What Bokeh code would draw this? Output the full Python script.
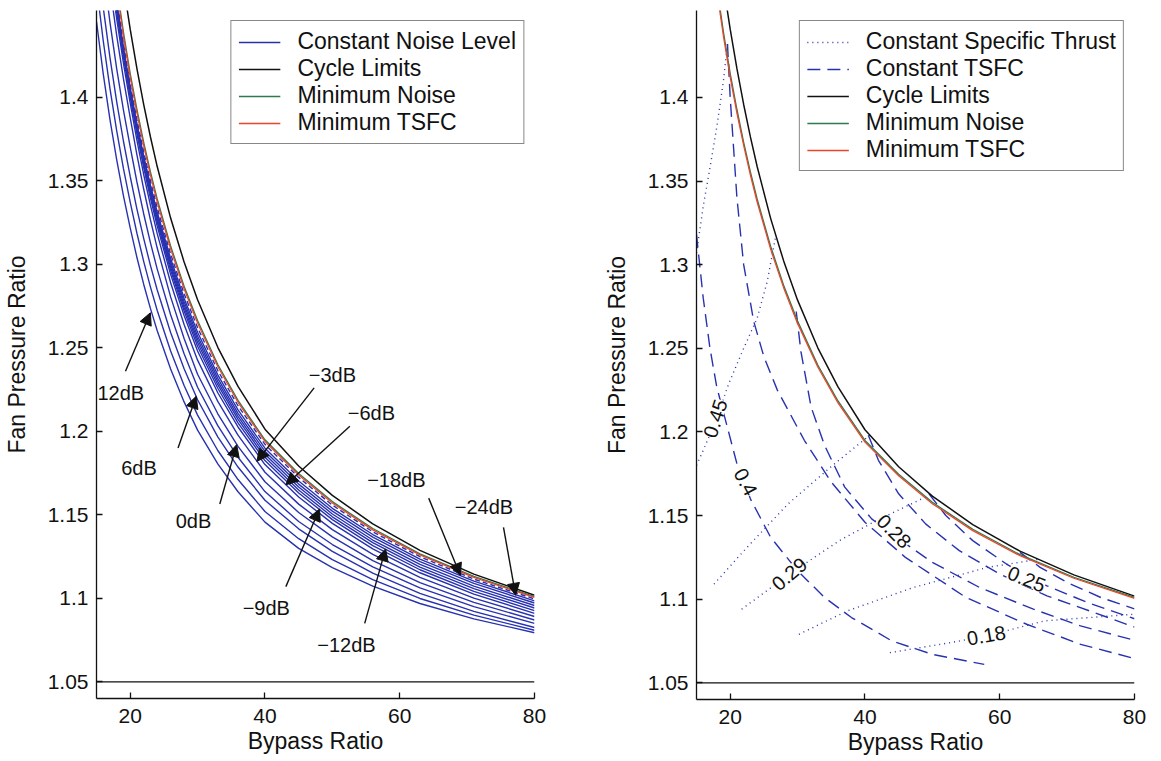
import math
from bokeh.plotting import figure
from bokeh.models import (Range1d, FixedTicker, Legend, LegendItem, Arrow, NormalHead,
                          ColumnDataSource, LabelSet, Span)
from bokeh.core.properties import value
from bokeh.layouts import row
from bokeh.embed import file_html
from bokeh.resources import INLINE

# ---------------- data ----------------
bpr = [15, 16, 17, 18, 19, 20, 21, 22, 23, 24, 26, 28, 30, 33, 36, 40, 45, 50, 56, 63, 71, 80]
cycle_limit = [1.6101, 1.5672, 1.5297, 1.4966, 1.4671, 1.4408, 1.4172, 1.3958, 1.3764, 1.3587, 1.3277,
               1.3014, 1.2788, 1.2503, 1.2269, 1.2013, 1.1792, 1.1616, 1.1446, 1.1287, 1.1145, 1.1018]
min_noise = [1.5735, 1.5332, 1.4979, 1.4668, 1.4391, 1.4144, 1.3928, 1.3732, 1.3555, 1.3393, 1.3110,
             1.2869, 1.2663, 1.2400, 1.2185, 1.1949, 1.1747, 1.1579, 1.1418, 1.1266, 1.1131, 1.1010]
min_tsfc = [1.5704, 1.5303, 1.4953, 1.4643, 1.4367, 1.4121, 1.3907, 1.3713, 1.3536, 1.3375, 1.3093,
            1.2854, 1.2649, 1.2388, 1.2174, 1.1939, 1.1738, 1.1571, 1.1410, 1.1260, 1.1125, 1.1005]
fpr_floor = 1.05

# constant noise level contours
n_m24 = [1.5643, 1.5247, 1.4900, 1.4594, 1.4321, 1.4077, 1.3865, 1.3673, 1.3499, 1.3340, 1.3061,
         1.2824, 1.2621, 1.2364, 1.2153, 1.1922, 1.1724, 1.1558, 1.1398, 1.1249, 1.1115, 1.0996]
n_m21 = [1.5613, 1.5218, 1.4873, 1.4569, 1.4297, 1.4055, 1.3842, 1.3649, 1.3474, 1.3314, 1.3035,
         1.2797, 1.2593, 1.2338, 1.2128, 1.1899, 1.1702, 1.1539, 1.1382, 1.1235, 1.1103, 1.0985]
n_m18 = [1.5601, 1.5207, 1.4863, 1.4559, 1.4288, 1.4047, 1.3832, 1.3637, 1.3460, 1.3299, 1.3016,
         1.2777, 1.2571, 1.2317, 1.2108, 1.1880, 1.1684, 1.1522, 1.1366, 1.1220, 1.1089, 1.0972]
n_m15 = [1.5589, 1.5196, 1.4852, 1.4549, 1.4279, 1.4038, 1.3821, 1.3625, 1.3447, 1.3284, 1.3000,
         1.2758, 1.2551, 1.2298, 1.2090, 1.1862, 1.1667, 1.1505, 1.1349, 1.1203, 1.1073, 1.0957]
n_m12 = [1.5576, 1.5184, 1.4841, 1.4539, 1.4269, 1.4029, 1.3811, 1.3613, 1.3434, 1.3270, 1.2983,
         1.2740, 1.2532, 1.2279, 1.2071, 1.1844, 1.1649, 1.1488, 1.1333, 1.1187, 1.1058, 1.0942]
n_m9 = [1.5564, 1.5173, 1.4831, 1.4529, 1.4260, 1.4020, 1.3800, 1.3600, 1.3419, 1.3254, 1.2965,
        1.2720, 1.2509, 1.2258, 1.2051, 1.1825, 1.1631, 1.1471, 1.1316, 1.1171, 1.1042, 1.0926]
n_m6 = [1.5540, 1.5150, 1.4810, 1.4509, 1.4241, 1.4002, 1.3781, 1.3580, 1.3397, 1.3231, 1.2940,
        1.2693, 1.2481, 1.2231, 1.2026, 1.1801, 1.1607, 1.1449, 1.1296, 1.1153, 1.1025, 1.0910]
n_m3 = [1.5491, 1.5105, 1.4767, 1.4469, 1.4204, 1.3967, 1.3742, 1.3538, 1.3354, 1.3185, 1.2890,
        1.2640, 1.2426, 1.2179, 1.1977, 1.1755, 1.1564, 1.1411, 1.1263, 1.1125, 1.1001, 1.0891]
n_0 = [1.5369, 1.4991, 1.4661, 1.4370, 1.4110, 1.3879, 1.3655, 1.3451, 1.3267, 1.3099, 1.2805,
       1.2556, 1.2342, 1.2105, 1.1910, 1.1698, 1.1514, 1.1368, 1.1226, 1.1094, 1.0976, 1.0870]
n_p3 = [1.5125, 1.4764, 1.4449, 1.4171, 1.3924, 1.3703, 1.3493, 1.3303, 1.3130, 1.2973, 1.2698,
        1.2464, 1.2264, 1.2034, 1.1845, 1.1639, 1.1460, 1.1322, 1.1188, 1.1062, 1.0950, 1.0850]
n_p6 = [1.4881, 1.4538, 1.4238, 1.3973, 1.3737, 1.3526, 1.3331, 1.3155, 1.2994, 1.2848, 1.2592,
        1.2375, 1.2189, 1.1967, 1.1786, 1.1587, 1.1416, 1.1281, 1.1151, 1.1030, 1.0922, 1.0825]
n_p9 = [1.4667, 1.4339, 1.4052, 1.3799, 1.3573, 1.3372, 1.3186, 1.3018, 1.2865, 1.2725, 1.2481,
        1.2274, 1.2097, 1.1885, 1.1711, 1.1520, 1.1357, 1.1232, 1.1112, 1.0999, 1.0899, 1.0809]
n_p12 = [1.4454, 1.4141, 1.3867, 1.3625, 1.3410, 1.3218, 1.3041, 1.2881, 1.2736, 1.2604, 1.2373,
         1.2176, 1.2007, 1.1805, 1.1638, 1.1456, 1.1299, 1.1184, 1.1073, 1.0969, 1.0877, 1.0794]
noise_solid = [n_m21, n_m18, n_m15, n_m12, n_m9, n_m6, n_m3, n_0, n_p3, n_p6, n_p9, n_p12]

# dB annotations: text position, arrow tail, arrow tip
db_text = ["12dB", "6dB", "0dB", "\u22123dB", "\u22126dB", "\u22129dB", "\u221212dB", "\u221218dB", "\u221224dB"]
db_text_x = [18.6, 21.3, 29.4, 50.0, 55.8, 40.2, 52.1, 59.5, 72.5]
db_text_y = [1.223, 1.178, 1.146, 1.234, 1.211, 1.094, 1.072, 1.171, 1.1545]
db_tail_x = [19.3, 27.1, 33.3, 47.3, 52.6, 43.1, 54.8, 64.3, 75.4]
db_tail_y = [1.236, 1.190, 1.1565, 1.226, 1.203, 1.107, 1.085, 1.160, 1.1425]
db_tip_x = [23.0, 29.8, 35.8, 38.8, 43.1, 48.1, 57.9, 69.0, 77.2]
db_tip_y = [1.271, 1.221, 1.192, 1.182, 1.168, 1.1535, 1.1296, 1.1137, 1.1018]

# constant TSFC contours (dashed)
tsfc_a_bpr = [15, 16, 17, 18, 19.5, 21, 23, 26, 30, 34, 38, 44, 50, 57.7]
tsfc_a_fpr = [1.318, 1.280, 1.250, 1.227, 1.204, 1.181, 1.160, 1.137, 1.117, 1.101, 1.089, 1.075, 1.067, 1.061]
tsfc_b_bpr = [19.6, 20, 20.5, 21, 22, 23.5, 25, 27, 31, 35, 40, 46, 55, 64, 72, 80]
tsfc_b_fpr = [1.432, 1.400, 1.370, 1.340, 1.300, 1.266, 1.245, 1.225, 1.195, 1.170, 1.146, 1.125, 1.101, 1.085, 1.073, 1.0645]
tsfc_c_bpr = [29.8, 30.5, 32, 34, 37, 41, 44.3, 50, 57, 65, 72, 80]
tsfc_c_fpr = [1.272, 1.248, 1.215, 1.192, 1.167, 1.148, 1.138, 1.122, 1.107, 1.094, 1.084, 1.0754]
tsfc_d_bpr = [40.5, 42, 45, 49, 54, 60, 67, 74, 80]
tsfc_d_fpr = [1.198, 1.183, 1.163, 1.145, 1.129, 1.115, 1.102, 1.092, 1.0833]
tsfc_e_bpr = [49.5, 52, 56, 61, 64, 67, 73, 80]
tsfc_e_fpr = [1.163, 1.150, 1.135, 1.121, 1.114, 1.108, 1.098, 1.0883]
tsfc_f_bpr = [63, 66, 70, 75, 80]
tsfc_f_fpr = [1.128, 1.119, 1.110, 1.101, 1.0942]

# constant specific thrust contours (dotted)
st_a_bpr = [15, 16, 17, 18, 19, 19.6]
st_a_fpr = [1.307, 1.335, 1.358, 1.382, 1.410, 1.432]
st_b_bpr = [15, 16, 17.8, 19.8, 22, 24, 25.5, 26.8]
st_b_fpr = [1.180, 1.189, 1.206, 1.229, 1.250, 1.268, 1.290, 1.318]
st_c_bpr = [17.6, 22.5, 28.6, 35.2, 40.7]
st_c_fpr = [1.109, 1.131, 1.157, 1.180, 1.198]
st_d_bpr = [21.7, 28.8, 36.2, 41.7, 49.5]
st_d_fpr = [1.094, 1.115, 1.135, 1.147, 1.162]
st_e_bpr = [30.2, 37.4, 47.2, 58.2, 66]
st_e_fpr = [1.079, 1.093, 1.107, 1.119, 1.124]
st_f_bpr = [43.7, 52.7, 58, 66.6, 80]
st_f_fpr = [1.068, 1.074, 1.078, 1.087, 1.091]

contour_label_text = ["0.45", "0.4", "0.29", "0.28", "0.25", "0.18"]
contour_label_bpr = [17.8, 22.3, 28.8, 44.3, 64.0, 58.0]
contour_label_fpr = [1.208, 1.170, 1.115, 1.1406, 1.112, 1.0783]
contour_label_angle_deg = [72, -62, 40, -45, -22, 10]

bpr_ticks = [20, 40, 60, 80]
fpr_ticks = [1.05, 1.1, 1.15, 1.2, 1.25, 1.3, 1.35, 1.4]
fpr_tick_labels = ["1.05", "1.1", "1.15", "1.2", "1.25", "1.3", "1.35", "1.4"]

# ---------------- styling ----------------
FONT = "Liberation Sans"
BLUE = "#2832b0"
BLACK = "#111111"
GREEN = "#2e7a4e"
RED = "#e8462a"


def make_fig(left, right, top, bottom, fh):
    p = figure(frame_width=438, frame_height=fh,
               min_border_left=left, min_border_right=right,
               min_border_top=top, min_border_bottom=bottom,
               x_range=Range1d(15, 80), y_range=Range1d(1.04, 1.452),
               output_backend="svg", toolbar_location=None)
    p.outline_line_color = None
    p.grid.visible = False
    p.background_fill_color = "white"
    p.border_fill_color = "white"
    p.xaxis.ticker = FixedTicker(ticks=bpr_ticks)
    p.yaxis.ticker = FixedTicker(ticks=fpr_ticks)
    p.yaxis.major_label_overrides = {v: s for v, s in zip(fpr_ticks, fpr_tick_labels)}
    for ax in (p.xaxis[0], p.yaxis[0]):
        ax.minor_tick_line_color = None
        ax.major_tick_in = 6
        ax.major_tick_out = 0
        ax.major_tick_line_color = BLACK
        ax.major_tick_line_width = 1.3
        ax.axis_line_color = BLACK
        ax.axis_line_width = 1.3
        ax.major_label_text_font = FONT
        ax.major_label_text_font_size = "21px"
        ax.major_label_text_color = BLACK
        ax.axis_label_text_font = FONT
        ax.axis_label_text_font_size = "23px"
        ax.axis_label_text_font_style = "normal"
        ax.axis_label_text_color = BLACK
    p.xaxis.axis_label = "Bypass Ratio"
    p.yaxis.axis_label = "Fan Pressure Ratio"
    p.xaxis.major_label_standoff = 10
    p.xaxis.axis_label_standoff = 2
    p.yaxis.major_label_standoff = 8
    p.yaxis.axis_label_standoff = 15
    p.add_layout(Span(location=fpr_floor, dimension="width", line_color=BLACK, line_width=1.3))
    return p


def style_legend(lg):
    lg.location = "top_right"
    lg.margin = 10
    lg.padding = 7
    lg.spacing = 0
    lg.glyph_width = 42
    lg.glyph_height = 26
    lg.label_height = 26
    lg.label_standoff = 17
    lg.label_text_font = FONT
    lg.label_text_font_size = "23px"
    lg.label_text_color = BLACK
    lg.border_line_color = BLACK
    lg.border_line_width = 1.2
    lg.background_fill_alpha = 1.0


# ---------------- left panel ----------------
p1 = make_fig(96, 46, 10, 63, 688)
r_noise = None
for ys in noise_solid:
    r = p1.line(bpr, ys, line_color=BLUE, line_width=1.4)
    r_noise = r_noise or r
p1.line(bpr, n_m24, line_color=BLUE, line_width=1.4, line_dash="5 3")
r_cl1 = p1.line(bpr, cycle_limit, line_color=BLACK, line_width=1.5)
r_mn1 = p1.line(bpr, min_noise, line_color=GREEN, line_width=1.3)
r_mt1 = p1.line(bpr, min_tsfc, line_color=RED, line_width=1.3)

arrow_src = ColumnDataSource(dict(xs=db_tail_x, ys=db_tail_y, xe=db_tip_x, ye=db_tip_y))
p1.add_layout(Arrow(end=NormalHead(size=12, fill_color=BLACK, line_color=BLACK, line_width=1),
                    x_start="xs", y_start="ys", x_end="xe", y_end="ye",
                    source=arrow_src, line_color=BLACK, line_width=1.4))
lab_src = ColumnDataSource(dict(x=db_text_x, y=db_text_y, t=db_text))
p1.add_layout(LabelSet(x="x", y="y", text="t", source=lab_src, text_align="center",
                       text_baseline="middle", text_font=value(FONT), text_font_size=value("20px"),
                       text_color=BLACK))

lg1 = Legend(items=[LegendItem(label="Constant Noise Level", renderers=[r_noise]),
                    LegendItem(label="Cycle Limits", renderers=[r_cl1]),
                    LegendItem(label="Minimum Noise", renderers=[r_mn1]),
                    LegendItem(label="Minimum TSFC", renderers=[r_mt1])])
style_legend(lg1)
p1.add_layout(lg1)

# ---------------- right panel ----------------
p2 = make_fig(116, 27, 6, 66, 689)
dot_r = None
for xs, ys in [(st_a_bpr, st_a_fpr), (st_b_bpr, st_b_fpr), (st_c_bpr, st_c_fpr),
               (st_d_bpr, st_d_fpr), (st_e_bpr, st_e_fpr), (st_f_bpr, st_f_fpr)]:
    r = p2.line(xs, ys, line_color=BLUE, line_width=1.4, line_dash="1 4")
    dot_r = dot_r or r
dash_r = None
for xs, ys in [(tsfc_a_bpr, tsfc_a_fpr), (tsfc_b_bpr, tsfc_b_fpr), (tsfc_c_bpr, tsfc_c_fpr),
               (tsfc_d_bpr, tsfc_d_fpr), (tsfc_e_bpr, tsfc_e_fpr), (tsfc_f_bpr, tsfc_f_fpr)]:
    r = p2.line(xs, ys, line_color=BLUE, line_width=1.4, line_dash="13 7")
    dash_r = dash_r or r
r_cl2 = p2.line(bpr, cycle_limit, line_color=BLACK, line_width=1.5)
r_mn2 = p2.line(bpr, min_noise, line_color=GREEN, line_width=1.3)
r_mt2 = p2.line(bpr, min_tsfc, line_color=RED, line_width=1.3)

cl_src = ColumnDataSource(dict(x=contour_label_bpr, y=contour_label_fpr, t=contour_label_text,
                               a=[math.radians(d) for d in contour_label_angle_deg]))
p2.add_layout(LabelSet(x="x", y="y", text="t", angle="a", source=cl_src, text_align="center",
                       text_baseline="middle", text_font=value(FONT), text_font_size=value("20px"),
                       text_color=BLACK, background_fill_color="white"))

lg2 = Legend(items=[LegendItem(label="Constant Specific Thrust", renderers=[dot_r]),
                    LegendItem(label="Constant TSFC", renderers=[dash_r]),
                    LegendItem(label="Cycle Limits", renderers=[r_cl2]),
                    LegendItem(label="Minimum Noise", renderers=[r_mn2]),
                    LegendItem(label="Minimum TSFC", renderers=[r_mt2])])
style_legend(lg2)
p2.add_layout(lg2)

layout = row(p1, p2)
open("out.html", "w").write(file_html(layout, INLINE))
